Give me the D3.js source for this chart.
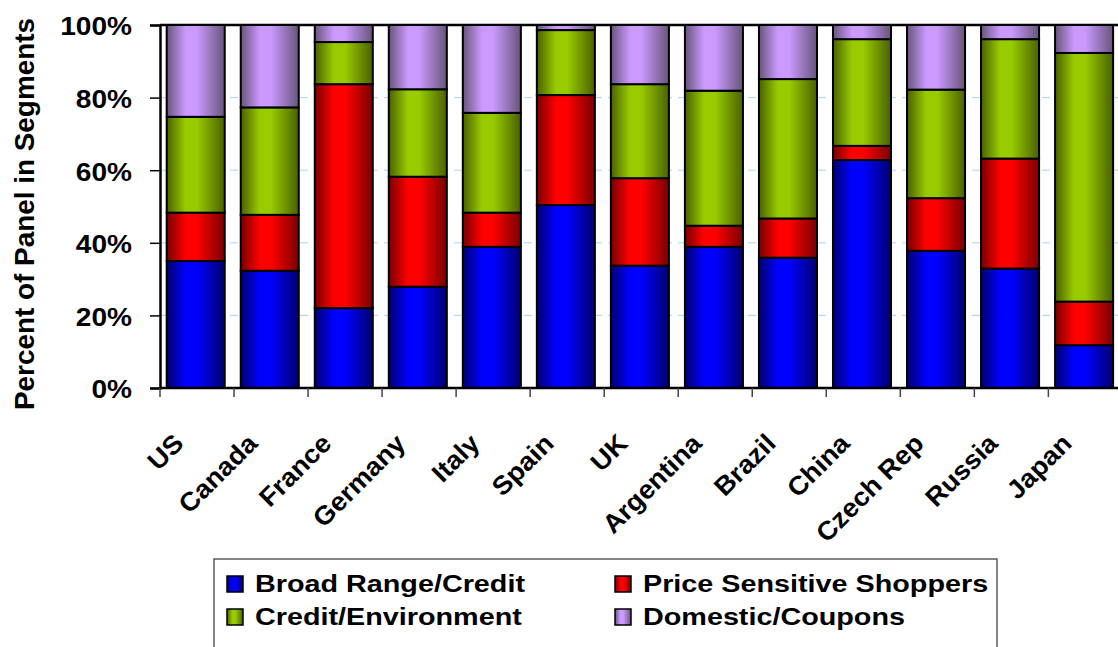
<!DOCTYPE html>
<html>
<head>
<meta charset="utf-8">
<script src="https://cdn.jsdelivr.net/npm/d3@7"></script>
<style>
  html, body { margin: 0; padding: 0; background: #fff; }
  svg { display: block; }
  text { font-family: "Liberation Sans", Arial, sans-serif; font-weight: bold; fill: #000; }
</style>
</head>
<body>
<svg id="chart" width="1118" height="647"></svg>
<script>
// Segment shares per country (percent of panel)
const categories = ["US", "Canada", "France", "Germany", "Italy", "Spain", "UK",
                    "Argentina", "Brazil", "China", "Czech Rep", "Russia", "Japan"];
const broadRange  = [35.0, 32.3, 22.0, 27.9, 38.9, 50.4, 33.7, 38.9, 35.9, 62.8, 37.8, 32.9, 11.8];
const priceSens   = [13.3, 15.4, 61.7, 30.3,  9.4, 30.3, 24.1,  5.8, 10.8,  3.9, 14.5, 30.3, 12.0];
const creditEnv   = [26.4, 29.6, 11.6, 24.1, 27.5, 17.9, 25.9, 37.2, 38.4, 29.4, 29.9, 32.9, 68.5];
const domestic    = [25.3, 22.7,  4.7, 17.7, 24.2,  1.4, 16.3, 18.1, 14.9,  3.9, 17.8,  3.9,  7.7];

const seriesNames = ["Broad Range/Credit", "Price Sensitive Shoppers", "Credit/Environment", "Domestic/Coupons"];
const yTickValues = [0, 20, 40, 60, 80, 100];
const yTickLabels = ["0%", "20%", "40%", "60%", "80%", "100%"];

// bright centre / dark edge for each series fill
const seriesColors = [
  { bright: "#0000ff", dark: "#00006e" },
  { bright: "#ff0000", dark: "#780000" },
  { bright: "#99cc00", dark: "#4a6000" },
  { bright: "#cc99ff", dark: "#66557a" }
];

const svg = d3.select("#chart");

const plot = { left: 160, right: 1122.4, top: 25, bottom: 388 };

const rows = categories.map((c, i) => ({
  cat: c, s0: broadRange[i], s1: priceSens[i], s2: creditEnv[i], s3: domestic[i]
}));
const stack = d3.stack().keys(["s0", "s1", "s2", "s3"]);
const layers = stack(rows);

const x = d3.scaleBand().domain(categories).range([plot.left, plot.right])
  .paddingInner(0.216).paddingOuter(0.108);
const y = d3.scaleLinear().domain([0, 100]).range([plot.bottom, plot.top]);

// gradients
const defs = svg.append("defs");
seriesColors.forEach((c, i) => {
  const g = defs.append("linearGradient").attr("id", "grad" + i)
    .attr("x1", 0).attr("x2", 1).attr("y1", 0).attr("y2", 0);
  g.append("stop").attr("offset", "0%").attr("stop-color", c.dark);
  g.append("stop").attr("offset", "33%").attr("stop-color", c.bright);
  g.append("stop").attr("offset", "52%").attr("stop-color", c.bright);
  g.append("stop").attr("offset", "100%").attr("stop-color", c.dark);
});

// gridlines
svg.append("g").selectAll("line")
  .data(yTickValues.filter(v => v > 0 && v < 100))
  .join("line")
  .attr("x1", plot.left).attr("x2", plot.right)
  .attr("y1", d => y(d)).attr("y2", d => y(d))
  .attr("stroke", "#a8d2fb").attr("stroke-width", 1)
  .attr("stroke-dasharray", "8,6");

// top frame of plot area
svg.append("line")
  .attr("x1", plot.left).attr("x2", plot.right)
  .attr("y1", plot.top).attr("y2", plot.top)
  .attr("stroke", "#000").attr("stroke-width", 2.5);

// bars
const barOffset = -1.3;
svg.append("g").selectAll("g")
  .data(layers)
  .join("g")
  .attr("fill", (d, i) => `url(#grad${i})`)
  .selectAll("rect")
  .data(d => d)
  .join("rect")
  .attr("x", d => x(d.data.cat) + barOffset)
  .attr("width", x.bandwidth())
  .attr("y", d => y(d[1]))
  .attr("height", d => y(d[0]) - y(d[1]))
  .attr("stroke", "#000").attr("stroke-width", 2);

// y axis
const yAxis = svg.append("g").attr("transform", `translate(${plot.left},0)`)
  .call(d3.axisLeft(y).tickValues(yTickValues).tickSize(10)
    .tickFormat((d, i) => yTickLabels[i]));
yAxis.select(".domain").attr("stroke", "#000").attr("stroke-width", 2.5);
yAxis.selectAll(".tick line").attr("stroke", "#000").attr("stroke-width", 1.5);
yAxis.selectAll(".tick text")
  .attr("x", -28).attr("dy", "0.38em")
  .style("font-size", "26px").style("font-family", "'Liberation Sans', Arial, sans-serif")
  .style("font-weight", "bold").attr("fill", "#000");

// x axis (ticks on band boundaries)
const xAxisG = svg.append("g");
xAxisG.append("line")
  .attr("x1", plot.left).attr("x2", plot.right)
  .attr("y1", plot.bottom).attr("y2", plot.bottom)
  .attr("stroke", "#000").attr("stroke-width", 2.5);
const boundaries = categories.map(c => x(c) - x.step() * x.paddingOuter());
boundaries.push(plot.right);
xAxisG.selectAll("line.tk").data(boundaries).join("line").attr("class", "tk")
  .attr("x1", d => d).attr("x2", d => d)
  .attr("y1", plot.bottom).attr("y2", plot.bottom + 9)
  .attr("stroke", "#444").attr("stroke-width", 1.5);

xAxisG.selectAll("text").data(categories).join("text")
  .attr("text-anchor", "end")
  .attr("transform", d => `translate(${x(d) + x.bandwidth() / 2 - 12},445) rotate(-45)`)
  .style("font-size", "26px")
  .text(d => d);

// axis title
const yTitle = svg.append("text")
  .attr("transform", "translate(34,214) rotate(-90)")
  .attr("text-anchor", "middle")
  .style("font-size", "28px")
  .text("Percent of Panel in Segments");

// legend
const legend = svg.append("g");
legend.append("rect")
  .attr("x", 214).attr("y", 559).attr("width", 783).attr("height", 110)
  .attr("fill", "#fff").attr("stroke", "#333").attr("stroke-width", 1.2);
const legendPos = [
  { sx: 227, ty: 592 }, { sx: 615, ty: 592 },
  { sx: 227, ty: 625 }, { sx: 615, ty: 625 }
];
seriesNames.forEach((name, i) => {
  const p = legendPos[i];
  legend.append("rect")
    .attr("x", p.sx).attr("y", p.ty - 16).attr("width", 16).attr("height", 16)
    .attr("fill", `url(#grad${i})`).attr("stroke", "#000").attr("stroke-width", 1.5);
  legend.append("text")
    .attr("x", p.sx + 28).attr("y", p.ty)
    .style("font-size", "23px")
    .text(name);
});

// widen glyphs horizontally to the chart's lettering proportions
function widen(sel, factor) {
  sel.each(function () {
    const w = this.getComputedTextLength();
    d3.select(this).attr("textLength", w * factor).attr("lengthAdjust", "spacingAndGlyphs");
  });
}
widen(yAxis.selectAll(".tick text"), 1.08);
widen(legend.selectAll("text"), 1.25);
widen(xAxisG.selectAll("text"), 1.05);
yTitle.attr("textLength", 392).attr("lengthAdjust", "spacingAndGlyphs");
</script>
</body>
</html>
